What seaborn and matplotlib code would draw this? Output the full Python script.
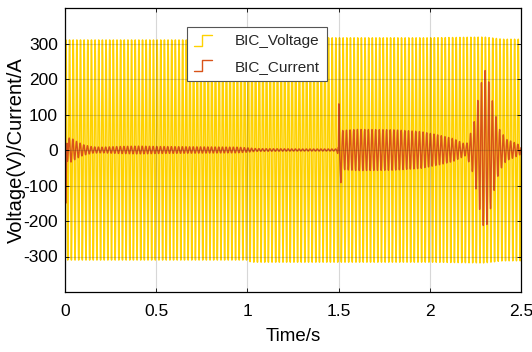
import numpy as np
import matplotlib
matplotlib.use("Agg")
import matplotlib.pyplot as plt
import seaborn as sns
from matplotlib.legend_handler import HandlerBase
from matplotlib.lines import Line2D

# ---------------- data ----------------
grid_freq_hz = 50.0
t_start, t_end = 0.0, 2.5

# voltage peak envelope (V)
volt_env_t = [0.0, 1.0, 1.02, 2.0, 2.3, 2.4, 2.5]
volt_env_v = [310, 310, 316, 316, 318, 312, 312]

# current peak envelope (A)
cur_env_t = [0.0, 0.03, 0.06, 0.10, 0.15, 0.20, 0.30, 0.40, 0.50, 0.70, 0.95,
             1.05, 1.30, 1.49, 1.52, 1.60, 1.80, 1.95, 2.05, 2.13, 2.20,
             2.24, 2.27, 2.30, 2.32, 2.35, 2.38, 2.42, 2.46, 2.50]
cur_env_v = [30, 35, 25, 15, 9, 8, 10, 11, 10, 9, 8,
             4, 3, 3, 55, 58, 57, 52, 42, 32, 15,
             70, 160, 228, 200, 120, 60, 30, 22, 12]

# transient spikes in the current (time s, value A)
spike1_t = [0.0, 0.004, 0.007, 0.011]
spike1_v = [0.0, -150.0, -60.0, 20.0]
spike2_t = [1.4995, 1.5015, 1.5045, 1.508, 1.5125, 1.517]
spike2_v = [0.0, 130.0, 40.0, -40.0, -92.0, -10.0]

x_ticks = [0, 0.5, 1, 1.5, 2, 2.5]
x_tick_labels = ["0", "0.5", "1", "1.5", "2", "2.5"]
y_ticks = [-300, -200, -100, 0, 100, 200, 300]
y_tick_labels = ["-300", "-200", "-100", "0", "100", "200", "300"]

series_names = ["BIC_Voltage", "BIC_Current"]
x_label = "Time/s"
y_label = "Voltage(V)/Current/A"

# ---------------- build signals ----------------
t = np.linspace(t_start, t_end, 50001)
carrier = np.sin(2 * np.pi * grid_freq_hz * t)
voltage = np.interp(t, volt_env_t, volt_env_v) * carrier
current = np.interp(t, cur_env_t, cur_env_v) * np.sin(2 * np.pi * grid_freq_hz * t + 0.6)
m1 = t <= spike1_t[-1]
current[m1] = np.interp(t[m1], spike1_t, spike1_v)
m2 = (t >= spike2_t[0]) & (t <= spike2_t[-1])
current[m2] = np.interp(t[m2], spike2_t, spike2_v)

# ---------------- plot ----------------
sns.set_theme(style="white")
plt.rcParams["font.family"] = ["Liberation Sans", "DejaVu Sans"]

fig = plt.figure(figsize=(5.32, 3.52), dpi=100)
ax = fig.add_axes([65 / 532, 1 - 292 / 352, (521 - 65) / 532, (292 - 8) / 352])

volt_color = "#FFD200"
cur_color = "#D95319"
sns.lineplot(x=t, y=voltage, ax=ax, color=volt_color, lw=1.1, label=series_names[0],
             estimator=None, sort=False)
sns.lineplot(x=t, y=current, ax=ax, color=cur_color, lw=1.0, label=series_names[1],
             estimator=None, sort=False)

ax.set_xlim(0, 2.5)
ax.set_ylim(-400, 400)
ax.set_xticks(x_ticks)
ax.set_xticklabels(x_tick_labels)
ax.set_yticks(y_ticks)
ax.set_yticklabels(y_tick_labels)

for lab in ax.get_xticklabels() + ax.get_yticklabels():
    lab.set_fontsize(12.5)
    lab.set_color("black")

ax.tick_params(axis="both", direction="in", length=3, width=0.6, colors="black",
               top=True, right=True, bottom=True, left=True)
ax.tick_params(axis="x", pad=9)
ax.tick_params(axis="y", pad=5)

ax.set_axisbelow(False)
ax.grid(True, color=(0.15, 0.15, 0.15), alpha=0.18, lw=0.8)

for s in ax.spines.values():
    s.set_color("black")
    s.set_linewidth(0.9)

ax.set_xlabel(x_label, fontsize=13.5, color="black", labelpad=6)
ax.set_ylabel(y_label, fontsize=14.5, color="black")
ax.yaxis.set_label_coords((26 - 65) / 456, 0.5)


class StepHandler(HandlerBase):
    def create_artists(self, legend, orig_handle, xdescent, ydescent, width, height,
                       fontsize, trans):
        x0, y0 = -xdescent, -ydescent
        xs = [x0, x0 + width * 0.45, x0 + width * 0.45, x0 + width]
        ys = [y0 + height * 0.05, y0 + height * 0.05, y0 + height * 0.95, y0 + height * 0.95]
        ln = Line2D(xs, ys, color=orig_handle.get_color(), lw=1.0, transform=trans)
        return [ln]


handles, labels = ax.get_legend_handles_labels()
leg = ax.legend(handles, labels, loc="upper left",
                bbox_to_anchor=(187 / 532, 1 - 27 / 352), bbox_transform=fig.transFigure,
                handler_map={h: StepHandler() for h in handles},
                prop={"family": "Liberation Sans", "size": 11},
                frameon=True, fancybox=False, framealpha=1, edgecolor="#555555",
                borderpad=0.45, handlelength=1.2, handleheight=0.9, handletextpad=1.5,
                labelspacing=0.7, borderaxespad=0)
leg.get_frame().set_linewidth(0.8)

fig.savefig("out.png", dpi=100)
